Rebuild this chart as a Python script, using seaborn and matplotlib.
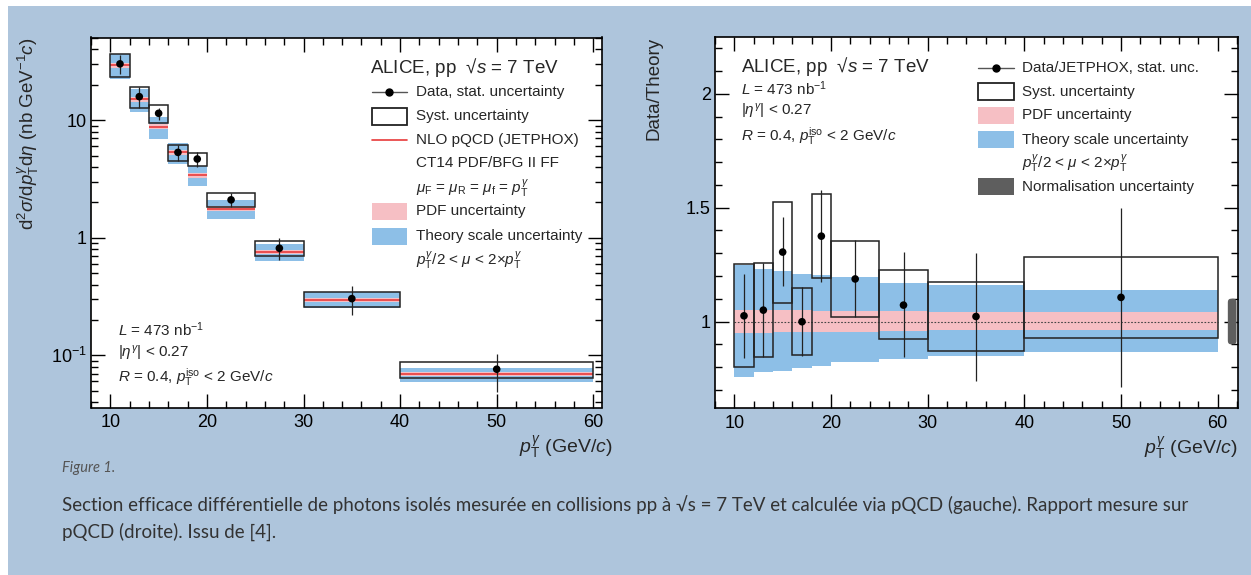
import numpy as np
import pandas as pd
import seaborn as sns
import matplotlib.pyplot as plt
from matplotlib.patches import Rectangle, FancyBboxPatch
from matplotlib.lines import Line2D
from matplotlib.ticker import FixedLocator, FixedFormatter, MultipleLocator, NullFormatter

# --- data ---
bin_lo = [10, 12, 14, 16, 18, 20, 25, 30, 40]
bin_hi = [12, 14, 16, 18, 20, 25, 30, 40, 60]
pt = [11, 13, 15, 17, 19, 22.5, 27.5, 35, 50]

# NLO pQCD (JETPHOX) cross section, nb GeV^-1 c
jetphox = [29.4, 15.1, 8.77, 5.33, 3.40, 1.77, 0.760, 0.297, 0.0689]

# everything below is relative to JETPHOX (right panel)
ratio = [1.025, 1.050, 1.305, 0.999, 1.375, 1.187, 1.072, 1.022, 1.106]
stat_up = [1.209, 1.258, 1.460, 1.150, 1.578, 1.357, 1.305, 1.302, 1.500]
stat_dn = [0.841, 0.845, 1.155, 0.848, 1.173, 1.022, 0.844, 0.737, 0.712]
syst_up = [1.251, 1.258, 1.527, 1.147, 1.559, 1.353, 1.227, 1.173, 1.283]
syst_dn = [0.799, 0.845, 1.081, 0.851, 1.192, 1.022, 0.922, 0.870, 0.929]
scale_up = [1.250, 1.229, 1.224, 1.209, 1.205, 1.195, 1.170, 1.161, 1.140]
scale_dn = [0.755, 0.777, 0.782, 0.796, 0.804, 0.822, 0.836, 0.848, 0.866]
pdf_up = [1.050, 1.050, 1.050, 1.049, 1.048, 1.047, 1.044, 1.043, 1.043]
pdf_dn = [0.951, 0.951, 0.952, 0.953, 0.954, 0.956, 0.959, 0.961, 0.963]
norm_unc = 0.10

df = pd.DataFrame({
    "lo": bin_lo, "hi": bin_hi, "pt": pt, "theory": jetphox, "ratio": ratio,
    "stat_up": stat_up, "stat_dn": stat_dn, "syst_up": syst_up, "syst_dn": syst_dn,
    "scale_up": scale_up, "scale_dn": scale_dn, "pdf_up": pdf_up, "pdf_dn": pdf_dn,
})
df["width"] = df["hi"] - df["lo"]
df["data"] = df["theory"] * df["ratio"]

BLUE = "#8dbfe7"
PINK = "#f6bfc4"
RED = "#e83a3a"
BOXC = "#222222"
BG = "#aec5dc"

sns.set_style("ticks")
plt.rcParams["font.family"] = ["Liberation Sans", "DejaVu Sans"]
plt.rcParams["mathtext.fontset"] = "custom"
plt.rcParams["mathtext.rm"] = "Liberation Sans"
plt.rcParams["mathtext.it"] = "Liberation Sans:italic"
plt.rcParams["mathtext.bf"] = "Liberation Sans:bold"

fig = plt.figure(figsize=(12.51, 5.75), dpi=100, facecolor=BG)
fig.add_artist(Rectangle((0, 1 - 6 / 575), 1, 6 / 575, transform=fig.transFigure,
                         color="white", lw=0))
fig.add_artist(Rectangle((0, 0), 8 / 1251, 1, transform=fig.transFigure,
                         color="white", lw=0))

axL = fig.add_axes([91 / 1251, 1 - 407.5 / 575, 511 / 1251, 370 / 575])
axR = fig.add_axes([715 / 1251, 1 - 408 / 575, 522.5 / 1251, 371 / 575])


def bands(ax, scale):
    s = df["theory"] if scale else 1.0
    ax.bar(df["lo"], (df["scale_up"] - df["scale_dn"]) * s, width=df["width"],
           bottom=df["scale_dn"] * s, align="edge", color=BLUE, lw=0, zorder=1)
    ax.bar(df["lo"], (df["pdf_up"] - df["pdf_dn"]) * s, width=df["width"],
           bottom=df["pdf_dn"] * s, align="edge", color=PINK, lw=0, zorder=2)
    ax.bar(df["lo"], (df["syst_up"] - df["syst_dn"]) * s, width=df["width"],
           bottom=df["syst_dn"] * s, align="edge", fill=False, edgecolor=BOXC,
           lw=1.1, zorder=4)
    ax.vlines(df["pt"], df["stat_dn"] * s, df["stat_up"] * s, color=BOXC,
              lw=0.9, zorder=5)


def style_axis(ax):
    ax.set_facecolor("white")
    for sp in ax.spines.values():
        sp.set_color("black")
        sp.set_linewidth(1.2)
    ax.xaxis.set_major_locator(MultipleLocator(10))
    ax.xaxis.set_minor_locator(MultipleLocator(2))
    ax.tick_params(which="both", direction="in", top=True, right=True,
                   width=1.0, labelsize=13, colors="black")
    ax.tick_params(which="major", length=10)
    ax.tick_params(which="minor", length=5)
    ax.tick_params(axis="x", pad=5)
    ax.tick_params(axis="y", pad=3)
    ax.set_xlabel(r"$p_{\rm T}^{\gamma}$ (GeV/$c$)", fontsize=14, loc="right")


def legend_rows(ax, rows, x0, x1, xt, fs=11, h=0.046):
    for y, kind, label in rows:
        if kind == "data":
            ax.add_line(Line2D([x0, x1], [y, y], transform=ax.transAxes,
                               color="#555555", lw=1.0))
            ax.add_line(Line2D([(x0 + x1) / 2], [y], transform=ax.transAxes,
                               marker="o", ms=5, color="black", lw=0))
        elif kind == "syst":
            ax.add_patch(Rectangle((x0, y - h / 2), x1 - x0, h, transform=ax.transAxes,
                                   fill=False, ec=BOXC, lw=1.3))
        elif kind == "line":
            ax.add_line(Line2D([x0, x1], [y, y], transform=ax.transAxes,
                               color=RED, lw=1.2))
        elif kind is not None:
            ax.add_patch(Rectangle((x0, y - h / 2), x1 - x0, h, transform=ax.transAxes,
                                   color=kind, lw=0))
        ax.text(xt, y, label, transform=ax.transAxes, ha="left", va="center",
                fontsize=fs)


header = "ALICE, pp  √$s$ = 7 TeV"
info = [r"$L$ = 473 nb$^{-1}$", r"$|\eta^{\gamma}|$ < 0.27",
        r"$R$ = 0.4, $p_{\rm T}^{\rm iso}$ < 2 GeV/$c$"]
scale_txt = r"$p_{\rm T}^{\gamma}/2$ < $\mu$ < 2$\times p_{\rm T}^{\gamma}$"

# --- left: cross section ---
axL.set_yscale("log")
bands(axL, scale=True)
axL.hlines(df["theory"], df["lo"], df["hi"], color=RED, lw=1.2, zorder=3)
sns.scatterplot(data=df, x="pt", y="data", ax=axL, color="black", s=30,
                edgecolor="none", zorder=6, legend=False)
axL.set_xlim(8, 60.9)
axL.set_ylim(0.036, 50.5)
style_axis(axL)
axL.yaxis.set_major_locator(FixedLocator([0.1, 1, 10]))
axL.yaxis.set_major_formatter(FixedFormatter([r"$10^{-1}$", "1", "10"]))
axL.yaxis.set_minor_formatter(NullFormatter())
axL.set_ylabel(r"d$^{2}\sigma$/d$p_{\rm T}^{\gamma}$d$\eta$ (nb GeV$^{-1}c$)",
               fontsize=13.5, loc="top")
axL.yaxis.set_label_coords(-0.098, 1.0)
axL.xaxis.set_label_coords(1.02, -0.072)

axL.text(0.546, 0.920, header, transform=axL.transAxes, fontsize=13.5,
         ha="left", va="center")
legend_rows(axL, [
    (0.852, "data", "Data, stat. uncertainty"),
    (0.787, "syst", "Syst. uncertainty"),
    (0.722, "line", "NLO pQCD (JETPHOX)"),
    (0.660, None, "CT14 PDF/BFG II FF"),
    (0.592, None, r"$\mu_{\rm F}$ = $\mu_{\rm R}$ = $\mu_{\rm f}$ = $p_{\rm T}^{\gamma}$"),
    (0.531, PINK, "PDF uncertainty"),
    (0.463, BLUE, "Theory scale uncertainty"),
    (0.398, None, scale_txt),
], x0=0.550, x1=0.618, xt=0.636)
for y, t in zip([0.209, 0.147, 0.082], info):
    axL.text(0.053, y, t, transform=axL.transAxes, fontsize=11, ha="left", va="center")

# --- right: data / theory ---
bands(axR, scale=False)
axR.hlines(1.0, 10, 60, color="#444444", lw=0.8, linestyles=(0, (1.5, 1.5)), zorder=3)
sns.scatterplot(data=df, x="pt", y="ratio", ax=axR, color="black", s=30,
                edgecolor="none", zorder=6, legend=False)
axR.add_patch(FancyBboxPatch((61.05, 1 - norm_unc), 0.9, 2 * norm_unc,
                             boxstyle="round,pad=0,rounding_size=0.3",
                             mutation_aspect=0.05, color="#5e5e5e", lw=0,
                             zorder=3, clip_on=False))
axR.set_xlim(8, 62.05)
axR.set_ylim(0.62, 2.25)
style_axis(axR)
axR.yaxis.set_major_locator(FixedLocator([1, 1.5, 2]))
axR.yaxis.set_major_formatter(FixedFormatter(["1", "1.5", "2"]))
axR.yaxis.set_minor_locator(MultipleLocator(0.1))
axR.set_ylabel("Data/Theory", fontsize=13.5, loc="top")
axR.yaxis.set_label_coords(-0.101, 1.0)
axR.xaxis.set_label_coords(1.0, -0.072)

axR.text(0.049, 0.921, header, transform=axR.transAxes, fontsize=13.5,
         ha="left", va="center")
for y, t in zip([0.860, 0.800, 0.733], info):
    axR.text(0.05, y, t, transform=axR.transAxes, fontsize=11, ha="left", va="center")
legend_rows(axR, [
    (0.916, "data", "Data/JETPHOX, stat. unc."),
    (0.853, "syst", "Syst. uncertainty"),
    (0.789, PINK, "PDF uncertainty"),
    (0.723, BLUE, "Theory scale uncertainty"),
    (0.660, None, scale_txt),
    (0.596, "#5e5e5e", "Normalisation uncertainty"),
], x0=0.503, x1=0.573, xt=0.588)

# --- caption ---
cap_font = ["Lato", "DejaVu Sans"]
fig.text(62 / 1251, 1 - 468 / 575, "Figure 1.", fontsize=10.5, style="italic",
         color="#555555", family=cap_font, va="center")
fig.text(62 / 1251, 1 - 505 / 575,
         "Section efficace différentielle de photons isolés mesurée en collisions pp à "
         "√s = 7 TeV et calculée via pQCD (gauche). Rapport mesure sur",
         fontsize=13.5, color="#333333", family=cap_font, va="center")
fig.text(62 / 1251, 1 - 532 / 575, "pQCD (droite). Issu de [4].",
         fontsize=13.5, color="#333333", family=cap_font, va="center")

fig.savefig("out.png", dpi=100, facecolor=fig.get_facecolor())
